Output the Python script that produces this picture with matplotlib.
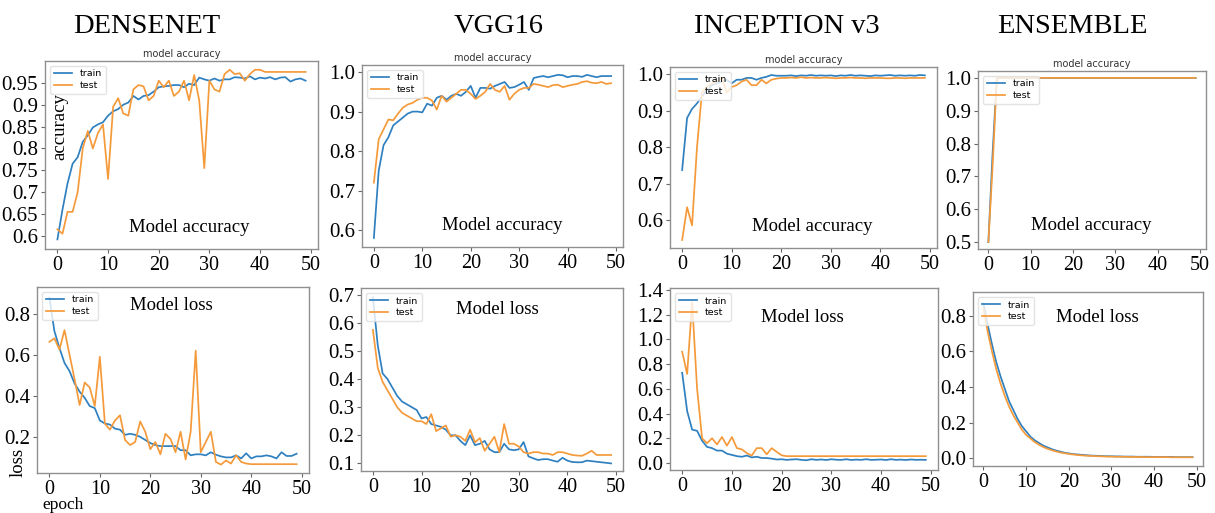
import matplotlib
matplotlib.use("Agg")
import matplotlib.pyplot as plt

W, H = 1215, 513
epochs = list(range(50))

dense_acc_train = [0.592,0.66,0.72,0.765,0.78,0.815,0.83,0.848,0.855,0.86,
 0.875,0.885,0.89,0.9,0.905,0.92,0.912,0.92,0.922,0.93,
 0.94,0.942,0.943,0.945,0.945,0.94,0.948,0.945,0.962,0.958,
 0.955,0.96,0.955,0.958,0.958,0.963,0.962,0.96,0.965,0.958,
 0.962,0.96,0.963,0.958,0.962,0.963,0.953,0.958,0.96,0.955]
dense_acc_test = [0.615,0.605,0.655,0.655,0.7,0.8,0.84,0.8,0.835,0.855,
 0.73,0.895,0.915,0.88,0.875,0.935,0.945,0.942,0.91,0.92,
 0.955,0.94,0.955,0.92,0.93,0.955,0.91,0.968,0.91,0.755,
 0.955,0.935,0.93,0.97,0.98,0.97,0.972,0.955,0.97,0.98,
 0.98,0.975,0.975,0.975,0.975,0.975,0.975,0.975,0.975,0.975]

vgg_acc_train = [0.58,0.75,0.815,0.835,0.865,0.875,0.885,0.895,0.9,0.9,
 0.898,0.92,0.915,0.935,0.94,0.93,0.94,0.945,0.94,0.95,
 0.965,0.935,0.96,0.96,0.958,0.965,0.97,0.975,0.96,0.962,
 0.968,0.975,0.955,0.985,0.988,0.99,0.987,0.99,0.993,0.992,
 0.987,0.99,0.99,0.988,0.993,0.99,0.987,0.99,0.99,0.99]
vgg_acc_test = [0.72,0.83,0.855,0.88,0.878,0.895,0.91,0.918,0.922,0.93,
 0.935,0.935,0.928,0.905,0.94,0.925,0.935,0.945,0.955,0.955,
 0.945,0.932,0.94,0.95,0.97,0.955,0.95,0.965,0.93,0.945,
 0.955,0.96,0.96,0.97,0.968,0.965,0.962,0.967,0.968,0.962,
 0.965,0.968,0.97,0.975,0.977,0.973,0.972,0.975,0.97,0.972]

inc_acc_train = [0.737,0.88,0.905,0.92,0.94,0.955,0.97,0.975,0.98,0.985,
 0.975,0.985,0.985,0.99,0.99,0.985,0.99,0.993,0.998,0.996,
 0.996,0.996,0.997,0.995,0.997,0.996,0.998,0.996,0.997,0.996,
 0.997,0.995,0.997,0.996,0.998,0.996,0.997,0.996,0.995,0.997,
 0.996,0.997,0.998,0.996,0.997,0.996,0.997,0.996,0.998,0.997]
inc_acc_test = [0.545,0.635,0.585,0.8,0.95,0.965,0.975,0.98,0.99,0.95,
 0.965,0.97,0.98,0.985,0.97,0.97,0.985,0.975,0.985,0.988,
 0.99,0.99,0.991,0.99,0.992,0.99,0.991,0.99,0.99,0.991,
 0.99,0.989,0.99,0.99,0.991,0.99,0.99,0.989,0.99,0.99,
 0.99,0.989,0.989,0.99,0.99,0.989,0.99,0.99,0.99,0.99]

ens_acc_train = [0.5,0.77,1.0,1.0,1.0,1.0,1.0,1.0,1.0,1.0,
 1.0,1.0,1.0,1.0,1.0,1.0,1.0,1.0,1.0,1.0,
 1.0,1.0,1.0,1.0,1.0,1.0,1.0,1.0,1.0,1.0,
 1.0,1.0,1.0,1.0,1.0,1.0,1.0,1.0,1.0,1.0,
 1.0,1.0,1.0,1.0,1.0,1.0,1.0,1.0,1.0,1.0]
ens_acc_test = [0.5,0.73,1.0,1.0,1.0,1.0,1.0,1.0,1.0,1.0,
 1.0,1.0,1.0,1.0,1.0,1.0,1.0,1.0,1.0,1.0,
 1.0,1.0,1.0,1.0,1.0,1.0,1.0,1.0,1.0,1.0,
 1.0,1.0,1.0,1.0,1.0,1.0,1.0,1.0,1.0,1.0,
 1.0,1.0,1.0,1.0,1.0,1.0,1.0,1.0,1.0,1.0]

dense_loss_train = [0.878,0.715,0.633,0.56,0.52,0.46,0.42,0.39,0.35,0.34,
 0.28,0.265,0.26,0.24,0.235,0.21,0.215,0.21,0.2,0.185,
 0.17,0.16,0.155,0.155,0.155,0.155,0.135,0.135,0.11,0.115,
 0.115,0.11,0.125,0.113,0.105,0.1,0.1,0.11,0.095,0.12,
 0.095,0.105,0.105,0.11,0.105,0.095,0.125,0.107,0.107,0.118]
dense_loss_test = [0.663,0.68,0.625,0.72,0.6,0.48,0.355,0.465,0.44,0.35,
 0.59,0.265,0.235,0.28,0.305,0.185,0.16,0.175,0.275,0.225,
 0.14,0.175,0.115,0.215,0.19,0.125,0.225,0.09,0.225,0.62,
 0.125,0.175,0.225,0.078,0.065,0.085,0.07,0.11,0.078,0.07,
 0.067,0.067,0.067,0.067,0.067,0.067,0.067,0.067,0.067,0.067]

vgg_loss_train = [0.69,0.52,0.42,0.4,0.37,0.34,0.32,0.31,0.3,0.29,
 0.26,0.265,0.24,0.235,0.23,0.22,0.2,0.2,0.18,0.165,
 0.2,0.165,0.17,0.18,0.15,0.14,0.14,0.17,0.15,0.147,
 0.15,0.176,0.125,0.118,0.112,0.115,0.115,0.11,0.106,0.12,
 0.11,0.105,0.104,0.104,0.11,0.108,0.106,0.104,0.102,0.1]
vgg_loss_test = [0.575,0.44,0.39,0.36,0.33,0.3,0.28,0.27,0.26,0.25,
 0.25,0.24,0.275,0.215,0.225,0.235,0.195,0.2,0.195,0.18,
 0.22,0.175,0.19,0.145,0.17,0.195,0.14,0.24,0.17,0.17,
 0.16,0.14,0.135,0.14,0.14,0.135,0.135,0.13,0.14,0.14,
 0.135,0.13,0.128,0.127,0.135,0.145,0.13,0.13,0.13,0.13]

inc_loss_train = [0.73,0.42,0.27,0.26,0.18,0.13,0.12,0.1,0.1,0.075,
 0.065,0.055,0.05,0.06,0.045,0.05,0.04,0.04,0.035,0.028,
 0.03,0.025,0.028,0.03,0.025,0.022,0.03,0.025,0.028,0.024,
 0.03,0.026,0.025,0.03,0.024,0.027,0.025,0.03,0.025,0.026,
 0.028,0.024,0.03,0.025,0.027,0.024,0.028,0.025,0.026,0.025]
inc_loss_test = [0.9,0.72,1.3,0.6,0.2,0.16,0.2,0.15,0.21,0.14,
 0.21,0.12,0.11,0.08,0.06,0.12,0.12,0.07,0.12,0.09,
 0.062,0.055,0.055,0.055,0.055,0.055,0.055,0.055,0.055,0.055,
 0.055,0.055,0.055,0.055,0.055,0.055,0.055,0.055,0.055,0.055,
 0.055,0.055,0.055,0.055,0.055,0.055,0.055,0.055,0.055,0.055]

ens_loss_train = [0.87,0.75,0.64,0.54,0.46,0.39,0.32,0.27,0.22,0.18,
 0.15,0.12,0.1,0.085,0.07,0.06,0.05,0.042,0.036,0.03,
 0.026,0.022,0.02,0.018,0.016,0.014,0.013,0.012,0.011,0.01,
 0.01,0.009,0.009,0.008,0.008,0.008,0.007,0.007,0.007,0.007,
 0.006,0.006,0.006,0.006,0.006,0.005,0.005,0.005,0.005,0.005]
ens_loss_test = [0.84,0.71,0.6,0.5,0.42,0.35,0.29,0.24,0.2,0.16,
 0.13,0.11,0.09,0.075,0.062,0.052,0.044,0.037,0.031,0.027,
 0.023,0.02,0.017,0.015,0.013,0.012,0.011,0.01,0.009,0.008,
 0.008,0.007,0.007,0.007,0.006,0.006,0.006,0.006,0.005,0.005,
 0.005,0.005,0.005,0.005,0.004,0.004,0.004,0.004,0.004,0.004]

headers = ["DENSENET", "VGG16", "INCEPTION v3", "ENSEMBLE"]
header_x = [147, 499, 787, 1072]
xticks = [0, 10, 20, 30, 40, 50]

panels = [
    ((45, 61, 318, 249), dense_acc_train, dense_acc_test, (0.57, 1.0),
     [0.6,0.65,0.7,0.75,0.8,0.85,0.9,0.95], ["0.6","0.65","0.7","0.75","0.8","0.85","0.9","0.95"],
     "model accuracy", "Model accuracy", (189, 228)),
    ((362, 65, 623, 247), vgg_acc_train, vgg_acc_test, (0.557, 1.018),
     [0.6,0.7,0.8,0.9,1.0], ["0.6","0.7","0.8","0.9","1.0"],
     "model accuracy", "Model accuracy", (502, 226)),
    ((670, 67, 937, 248), inc_acc_train, inc_acc_test, (0.523, 1.02),
     [0.6,0.7,0.8,0.9,1.0], ["0.6","0.7","0.8","0.9","1.0"],
     "model accuracy", "Model accuracy", (812, 227)),
    ((978, 71, 1206, 249), ens_acc_train, ens_acc_test, (0.479, 1.021),
     [0.5,0.6,0.7,0.8,0.9,1.0], ["0.5","0.6","0.7","0.8","0.9","1.0"],
     "model accuracy", "Model accuracy", (1091, 226)),
    ((37, 287, 309, 473), dense_loss_train, dense_loss_test, (0.024, 0.93),
     [0.2,0.4,0.6,0.8], ["0.2","0.4","0.6","0.8"],
     None, "Model loss", (171, 306)),
    ((361, 288, 623, 471), vgg_loss_train, vgg_loss_test, (0.073, 0.724),
     [0.1,0.2,0.3,0.4,0.5,0.6,0.7], ["0.1","0.2","0.3","0.4","0.5","0.6","0.7"],
     None, "Model loss", (497, 310)),
    ((670, 288, 938, 470), inc_loss_train, inc_loss_test, (-0.057, 1.416),
     [0.0,0.2,0.4,0.6,0.8,1.0,1.2,1.4], ["0.0","0.2","0.4","0.6","0.8","1.0","1.2","1.4"],
     None, "Model loss", (802, 317)),
    ((973, 292, 1203, 466), ens_loss_train, ens_loss_test, (-0.045, 0.935),
     [0.0,0.2,0.4,0.6,0.8], ["0.0","0.2","0.4","0.6","0.8"],
     None, "Model loss", (1097, 317)),
]

serif = "Liberation Serif"
blue = "#2f80c0"
orange = "#f59a3a"

fig = plt.figure(figsize=(W / 100, H / 100), dpi=100)
fig.patch.set_facecolor("white")

def fx(x):
    return x / W

def fy(y):
    return 1 - y / H

for (box, tr, te, ylim, yt, ytl, title, overlay, opos) in panels:
    l, t, r, b = box
    ax = fig.add_axes([l / W, 1 - b / H, (r - l) / W, (b - t) / H])
    ax.plot(epochs, tr, color=blue, lw=1.25, label="train")
    ax.plot(epochs, te, color=orange, lw=1.25, label="test")
    ax.set_xlim(-2.45, 51.45)
    ax.set_ylim(*ylim)
    ax.set_xticks(xticks)
    ax.set_xticklabels([str(v) for v in xticks], fontfamily=serif, fontsize=14.5)
    ax.set_yticks(yt)
    ax.set_yticklabels(ytl, fontfamily=serif, fontsize=15)
    ax.tick_params(length=3, width=0.8, color="#666666", pad=2, labelcolor="black")
    for s in ax.spines.values():
        s.set_color("#8f8f8f")
        s.set_linewidth(1.0)
    if title:
        ax.set_title(title, fontsize=7, color="#333333", pad=3)
    leg = ax.legend(loc="upper left", fontsize=6.8, frameon=True, borderpad=0.4,
                    handlelength=2.0, labelspacing=0.3, fancybox=True)
    leg.get_frame().set_edgecolor("#dddddd")
    ax.text(fx(opos[0]), fy(opos[1]), overlay, transform=fig.transFigure,
            ha="center", va="center", fontfamily=serif, fontsize=13.5, color="black")

for h, x in zip(headers, header_x):
    fig.text(fx(x), fy(27), h, ha="center", va="center", fontfamily=serif,
             fontsize=20.5, color="black")

fig.text(fx(60), fy(127), "accuracy", rotation=90, ha="center", va="center",
         fontfamily=serif, fontsize=13.5, color="black")
fig.text(fx(18), fy(462), "loss", rotation=90, ha="center", va="center",
         fontfamily=serif, fontsize=13.5, color="black")
fig.text(fx(63), fy(505), "epoch", ha="center", va="center",
         fontfamily=serif, fontsize=12.5, color="black")

fig.savefig("out.png", dpi=100, facecolor="white")
